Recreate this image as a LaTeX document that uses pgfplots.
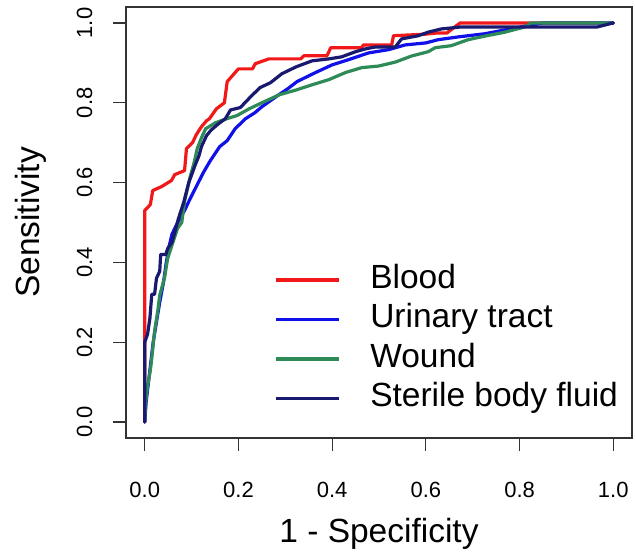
\documentclass[border=0pt]{standalone}
\usepackage{fontspec}
\setmainfont{Liberation Sans}
\usepackage{pgfplots}
\pgfplotsset{compat=1.18}
\definecolor{BloodRed}{HTML}{F01818}
\definecolor{UrineBlue}{HTML}{1010E8}
\definecolor{WoundGreen}{HTML}{2E8B57}
\definecolor{FluidNavy}{HTML}{191970}

% ROC curves, (1 - specificity, sensitivity)
\pgfplotstableread{
x y
0 0
0 0.53
0.012 0.545
0.017 0.58
0.036 0.59
0.047 0.598
0.057 0.605
0.064 0.62
0.085 0.63
0.089 0.685
0.102 0.70
0.110 0.72
0.121 0.74
0.132 0.755
0.138 0.76
0.153 0.785
0.170 0.80
0.176 0.853
0.191 0.873
0.200 0.885
0.230 0.885
0.236 0.898
0.265 0.910
0.333 0.910
0.340 0.918
0.389 0.918
0.397 0.938
0.463 0.938
0.467 0.945
0.527 0.945
0.531 0.968
0.600 0.972
0.625 0.975
0.645 0.975
0.673 1.0
1.0 1.0
}\blood
\pgfplotstableread{
x y
0 0
0.003 0.05
0.008 0.10
0.013 0.15
0.018 0.20
0.025 0.25
0.032 0.30
0.040 0.35
0.046 0.40
0.052 0.44
0.058 0.47
0.066 0.49
0.075 0.51
0.085 0.53
0.097 0.56
0.110 0.59
0.125 0.625
0.140 0.655
0.160 0.69
0.176 0.705
0.193 0.735
0.215 0.76
0.235 0.775
0.250 0.79
0.280 0.815
0.305 0.835
0.325 0.853
0.365 0.876
0.400 0.895
0.435 0.908
0.478 0.925
0.520 0.933
0.556 0.945
0.600 0.950
0.626 0.958
0.669 0.965
0.726 0.973
0.780 0.985
0.817 0.993
0.850 1.0
1.0 1.0
}\urine
\pgfplotstableread{
x y
0 0
0.002 0.05
0.006 0.09
0.012 0.13
0.015 0.16
0.021 0.228
0.028 0.28
0.032 0.318
0.042 0.36
0.049 0.41
0.060 0.45
0.070 0.485
0.079 0.50
0.085 0.553
0.096 0.61
0.106 0.653
0.112 0.685
0.121 0.712
0.130 0.735
0.151 0.750
0.175 0.760
0.197 0.768
0.223 0.785
0.250 0.80
0.287 0.820
0.323 0.832
0.357 0.845
0.393 0.858
0.429 0.876
0.463 0.888
0.499 0.892
0.535 0.902
0.569 0.917
0.605 0.928
0.620 0.938
0.654 0.943
0.690 0.958
0.726 0.967
0.769 0.977
0.811 0.990
0.824 1.0
1.0 1.0
}\wound
\pgfplotstableread{
x y
0 0
0 0.20
0.006 0.22
0.011 0.26
0.015 0.32
0.021 0.32
0.025 0.36
0.032 0.378
0.034 0.42
0.045 0.42
0.049 0.435
0.058 0.45
0.072 0.51
0.083 0.55
0.094 0.60
0.108 0.645
0.116 0.668
0.121 0.690
0.132 0.718
0.142 0.732
0.158 0.748
0.172 0.76
0.183 0.782
0.204 0.788
0.226 0.815
0.246 0.838
0.268 0.850
0.293 0.873
0.323 0.89
0.357 0.905
0.393 0.91
0.420 0.915
0.450 0.928
0.471 0.935
0.493 0.94
0.535 0.94
0.548 0.96
0.584 0.968
0.605 0.977
0.633 0.985
0.675 0.99
0.966 0.99
1.0 1.0
}\fluid

\begin{document}
\begin{tikzpicture}
\useasboundingbox (0,0) rectangle (635bp,553bp);
\begin{axis}[
  at={(126bp,115bp)}, anchor=south west,
  scale only axis,
  width=506bp, height=431bp,
  xmin=-0.04, xmax=1.04, ymin=-0.04, ymax=1.04,
  xtick={0,0.2,0.4,0.6,0.8,1},
  ytick={0,0.2,0.4,0.6,0.8,1},
  /pgf/number format/fixed,
  /pgf/number format/fixed zerofill,
  /pgf/number format/precision=1,
  /pgf/number format/assume math mode=true,
  xtick pos=bottom, ytick pos=left,
  tick align=outside,
  major tick length=13bp,
  axis line style={black!80, line width=1.2bp},
  tick style={black!80, line width=1.2bp},
  tick label style={font=\fontsize{22bp}{26bp}\selectfont},
  xticklabel style={anchor=base, yshift=-46bp},
  yticklabel style={rotate=90, anchor=base, yshift=21bp},
  label style={font=\fontsize{33.5bp}{40bp}\selectfont},
  xlabel={1 - Specificity},
  ylabel={Sensitivity},
  xlabel style={at={(axis description cs:0.5,0)}, anchor=base, yshift=-104bp},
  ylabel style={at={(axis description cs:0,0.5)}, anchor=base, yshift=86bp},
  every axis plot/.append style={line width=3.2bp, line join=round, line cap=round},
  legend cell align=left,
  legend image code/.code={\draw[#1, line cap=butt] (0bp,0bp) -- (63bp,0bp);},
  legend style={draw=none, fill=none, at={(axis cs:0.276,0.395)}, anchor=north west,
    inner sep=0pt, outer sep=0pt, row sep=8.5bp,
    font=\fontsize{33.5bp}{40bp}\selectfont,
    nodes={inner sep=0pt, text height=24bp, text depth=7bp},
    /tikz/every odd column/.append style={column sep=30bp}},
]
\addplot[BloodRed] table {\blood};
\addplot[UrineBlue] table {\urine};
\addplot[WoundGreen] table {\wound};
\addplot[FluidNavy] table {\fluid};
\legend{Blood,Urinary tract,Wound,Sterile body fluid}
\end{axis}
\end{tikzpicture}
\end{document}
